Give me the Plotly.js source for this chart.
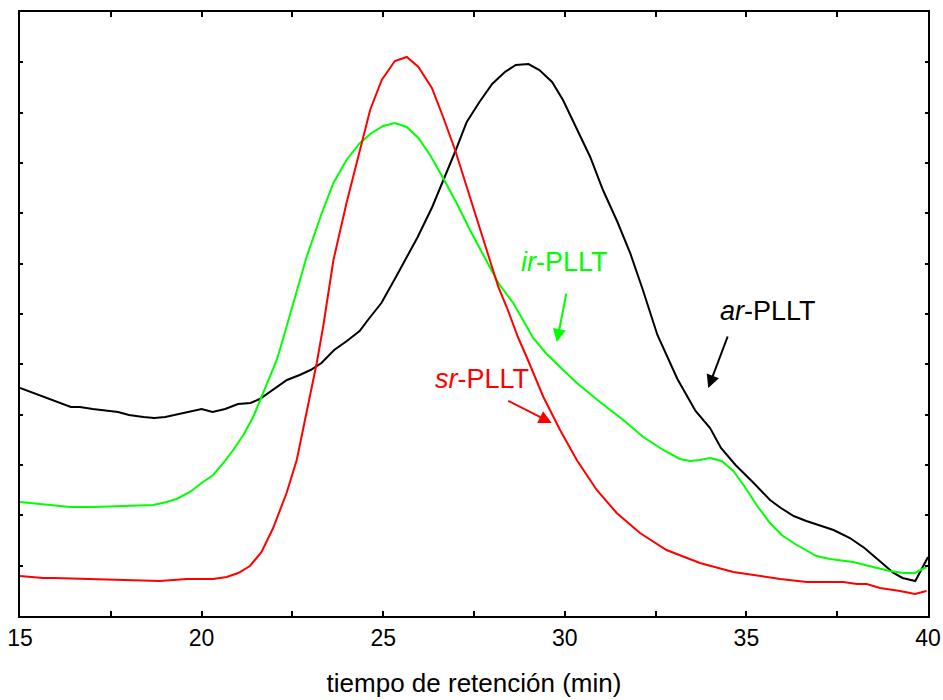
<!DOCTYPE html>
<html>
<head>
<meta charset="utf-8">
<script src="https://cdn.plot.ly/plotly-3.0.1.min.js"></script>
<style>html,body{margin:0;padding:0;background:#fff;}#chart{width:943px;height:700px;}</style>
</head>
<body>
<div id="chart"></div>
<script>
// Retention time (min) and detector signal (arbitrary units)
const arTime = [15.0,15.3,15.7,16.0,16.4,16.65,17.0,17.7,18.0,18.4,18.7,19.0,19.35,19.7,20.0,20.3,20.65,21.0,21.35,21.6,22.0,22.35,22.7,23.0,23.3,23.65,24.0,24.35,24.6,24.95,25.35,25.95,26.35,26.75,27.0,27.3,27.65,28.0,28.35,28.65,29.0,29.3,29.65,29.95,30.3,30.7,31.05,31.45,31.8,32.15,32.55,33.1,33.6,34.0,34.3,34.7,35.2,35.65,35.95,36.3,36.65,37.0,37.4,37.85,38.25,38.7,39.05,39.3,39.65,40.0];
const arSignal = [228,224,218,214,209,209,207,204,201,199,198,199,202,205,207,204,207,212,213,217,227,236,241,246,253,266,275,285,297,313,339,379,409,443,466,494,514,532,544,551,552,546,534,516,489,459,426,394,363,326,281,237,205,188,168,151,133,116,108,100,95,91,86,78,68,54,43,38,35,59];

const irTime = [15.0,15.64,16.38,17.02,17.75,18.21,18.67,19.04,19.31,19.68,20.0,20.32,20.6,20.87,21.15,21.42,21.65,21.88,22.07,22.25,22.53,22.89,23.31,23.63,23.99,24.36,24.68,25.0,25.32,25.65,25.97,26.29,26.65,27.02,27.39,27.76,28.17,28.58,29.13,29.5,29.87,30.33,30.97,31.61,32.16,32.71,33.17,33.45,33.72,34.0,34.32,34.64,34.96,35.28,35.65,35.97,36.34,36.93,37.3,37.94,38.49,38.95,39.32,39.64,39.96];
const irSignal = [114,112,109,109,110,111,111,114,117,124,133,141,153,166,181,199,219,239,256,278,313,359,403,433,456,473,483,490,493,489,478,461,438,413,386,361,333,313,278,262,249,233,214,196,179,166,157,155,156,158,155,145,129,111,93,81,72,60,57,54,49,45,43,43,49];

const srTime = [15.0,15.64,15.92,16.84,17.75,18.85,19.59,20.32,20.69,21.01,21.33,21.65,21.97,22.34,22.62,22.89,23.17,23.35,23.63,23.99,24.36,24.64,24.96,25.32,25.65,25.97,26.34,26.65,26.98,27.3,27.62,27.89,28.17,28.4,28.72,28.95,29.41,29.87,30.33,30.88,31.43,32.07,32.8,33.72,34.64,35.93,36.66,37.67,38.04,38.31,38.68,39.23,39.64,39.96];
const srSignal = [40,38,38,37,36,35,37,37,39,43,50,64,88,123,156,203,253,290,356,413,466,506,536,555,559,549,528,499,466,429,393,363,329,309,278,259,219,186,156,126,103,83,66,53,44,37,34,34,32,32,28,25,22,25];

const xTickVals = [15,17.5,20,22.5,25,27.5,30,32.5,35,37.5,40];
const xTickText = ['15','','20','','25','','30','','35','','40'];

const FONT = 'Liberation Sans, Arial, sans-serif';
const BLACK = '#000000', GREEN = '#00ff00', RED = '#ff0000';

const traces = [
  {x: arTime, y: arSignal, mode: 'lines', name: 'ar-PLLT', line: {color: BLACK, width: 2}},
  {x: irTime, y: irSignal, mode: 'lines', name: 'ir-PLLT', line: {color: GREEN, width: 2}},
  {x: srTime, y: srSignal, mode: 'lines', name: 'sr-PLLT', line: {color: RED, width: 2}}
];

function label(x, y, text, color) {
  return {x: x, y: y, xref: 'x', yref: 'y', text: text, showarrow: false,
          font: {family: FONT, size: 27, color: color}, xanchor: 'center', yanchor: 'middle'};
}
function arrow(x0, y0, x1, y1, color) {
  return {x: x1, y: y1, ax: x0, ay: y0, xref: 'x', yref: 'y', axref: 'x', ayref: 'y',
          text: '', showarrow: true, arrowhead: 2, arrowsize: 1.3, arrowwidth: 2, arrowcolor: color};
}

const layout = {
  width: 943, height: 700,
  margin: {l: 20, r: 15, t: 12, b: 84},
  paper_bgcolor: '#ffffff', plot_bgcolor: '#ffffff',
  showlegend: false,
  xaxis: {
    range: [15, 40], tickvals: xTickVals, ticktext: xTickText,
    ticks: 'inside', ticklen: 5, tickwidth: 2, tickcolor: BLACK,
    showline: true, linewidth: 2, linecolor: BLACK, mirror: 'ticks',
    showgrid: false, zeroline: false,
    tickfont: {family: FONT, size: 23, color: BLACK},
    title: {text: 'tiempo de retención (min)', font: {family: FONT, size: 26, color: BLACK}, standoff: 24}
  },
  yaxis: {
    range: [0, 604], tick0: 0, dtick: 604 / 12,
    ticks: 'inside', ticklen: 3, tickwidth: 2, tickcolor: BLACK,
    showticklabels: false,
    showline: true, linewidth: 2, linecolor: BLACK, mirror: 'ticks',
    showgrid: false, zeroline: false
  },
  annotations: [
    label(30.0, 354, '<i>ir</i>-PLLT', GREEN),
    label(27.72, 237, '<i>sr</i>-PLLT', RED),
    label(35.6, 305, '<i>ar</i>-PLLT', BLACK),
    arrow(30.05, 324, 29.78, 274, GREEN),
    arrow(28.4, 216, 29.64, 193, RED),
    arrow(34.5, 281, 33.95, 228, BLACK)
  ]
};

Plotly.newPlot('chart', traces, layout, {displayModeBar: false, staticPlot: true});
</script>
</body>
</html>
